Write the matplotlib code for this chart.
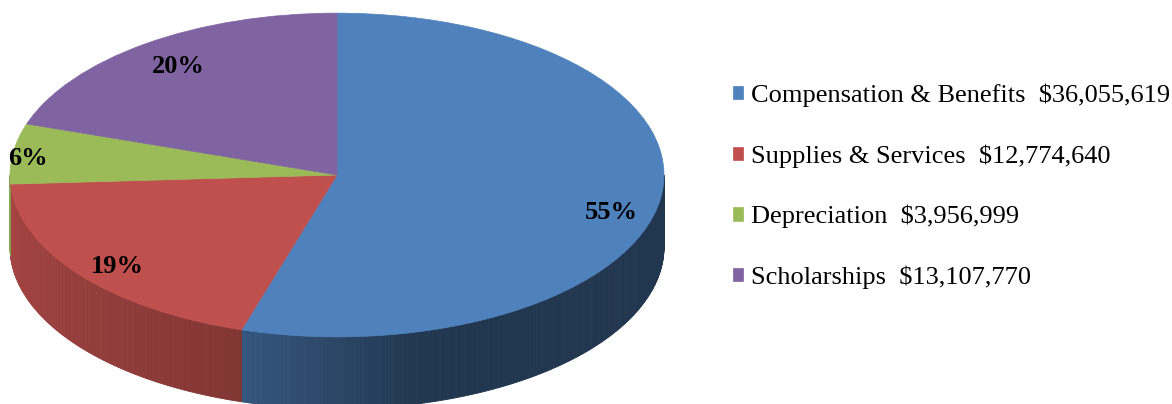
import numpy as np
import matplotlib.pyplot as plt
from matplotlib.transforms import Affine2D
from matplotlib.collections import PolyCollection
from matplotlib.colors import to_rgb

# data
categories = ['Compensation & Benefits', 'Supplies & Services', 'Depreciation', 'Scholarships']
amounts = [36055619, 12774640, 3956999, 13107770]
colors = ['#4f81bd', '#c0504d', '#9bbb59', '#8064a2']

# look of the fake 3d pie
tilt = 0.495      # vertical squash of the top face
depth = 0.22      # thickness of the side
label_pos = [(0.87, -7), (0.88, 2), (0.95, 1.5), (0.83, 0)]  # (radius, angle nudge)

fig = plt.figure(figsize=(11.72, 4.04), dpi=100)
ax = fig.add_axes([0, 0, 700 / 1172, 1])

total = sum(amounts)
frac = np.array(amounts) / total
bounds = 90 - 360 * np.concatenate([[0], np.cumsum(frac)])


def shade(t):
    # darker toward the front right, like the Excel lighting
    return np.interp(t, [-180, -108, -75, 0], [0.88, 0.68, 0.42, 0.42])


# side walls (only the front half is visible)
for k, c in enumerate(colors):
    hi, lo = bounds[k], bounds[k + 1]
    a, b = max(lo, -180), min(hi, 0)
    if a >= b:
        continue
    ts = np.linspace(a, b, int((b - a) * 2) + 2)
    polys, fcs = [], []
    base = np.array(to_rgb(c))
    for t0, t1 in zip(ts[:-1], ts[1:]):
        r0, r1 = np.radians(t0), np.radians(t1)
        x0, x1 = np.cos(r0), np.cos(r1)
        y0, y1 = tilt * np.sin(r0), tilt * np.sin(r1)
        polys.append([(x0, y0), (x1, y1), (x1, y1 - depth), (x0, y0 - depth)])
        fcs.append(np.clip(base * shade(0.5 * (t0 + t1)), 0, 1))
    ax.add_collection(PolyCollection(polys, facecolors=fcs, edgecolors=fcs, linewidths=0.6))

# top face
squash = Affine2D().scale(1, tilt) + ax.transData
wedges, _ = ax.pie(amounts, colors=colors, startangle=90, counterclock=False,
                   radius=1, center=(0, 0), frame=True,
                   wedgeprops=dict(linewidth=0.5, antialiased=True))
for w, c in zip(wedges, colors):
    w.set_transform(squash)
    w.set_edgecolor(c)
ax.set_xlim(-337 / 327, (700 - 337) / 327)
ax.set_ylim((175 - 404) / 327, 175 / 327)
ax.set_aspect('auto')
ax.axis('off')

# percent labels
for k in range(len(amounts)):
    r, nudge = label_pos[k]
    mid = np.radians(0.5 * (bounds[k] + bounds[k + 1]) + nudge)
    ax.text(r * np.cos(mid), r * np.sin(mid), f'{frac[k] * 100:.0f}%',
            transform=squash, ha='center', va='center',
            fontsize=19, fontweight='bold', family='Liberation Serif')

labels = [f'{c}  ${a:,}' for c, a in zip(categories, amounts)]
fig.legend(wedges, labels, loc='upper left', bbox_to_anchor=(0.614, 0.826),
           frameon=False, borderpad=0, handlelength=0.4, handleheight=0.4,
           handletextpad=0.3, labelspacing=1.41,
           prop=dict(family='Liberation Serif', size=19))

fig.savefig('out.png', dpi=100)
